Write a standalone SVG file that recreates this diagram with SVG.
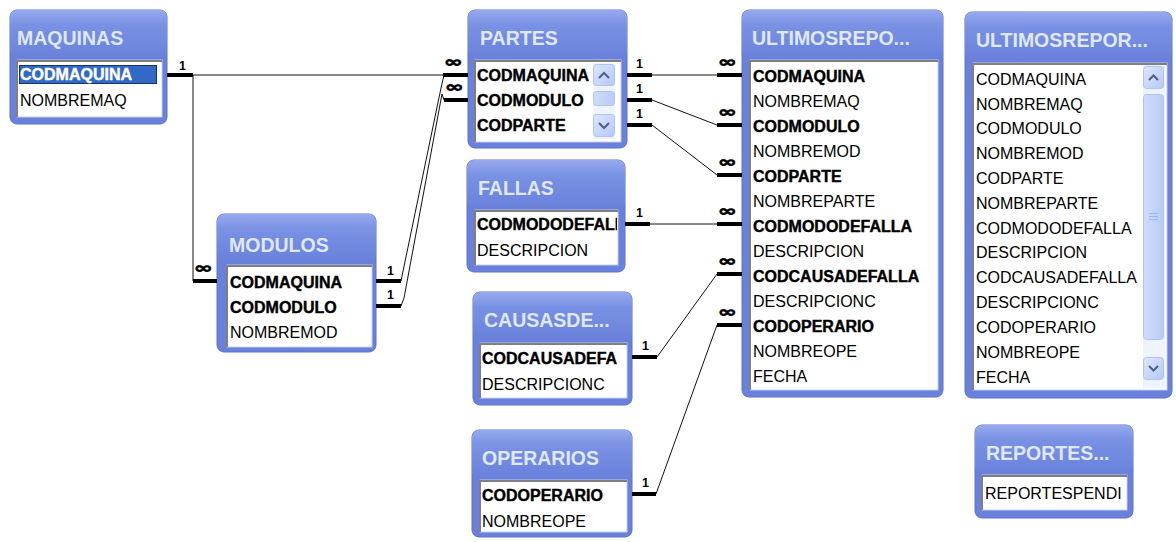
<svg xmlns="http://www.w3.org/2000/svg" width="1176" height="542" viewBox="0 0 1176 542">
  <defs>
    <linearGradient id="titleGrad" x1="0" y1="0" x2="0" y2="1">
      <stop offset="0" stop-color="#97aaee"/>
      <stop offset="0.3" stop-color="#7a92e4"/>
      <stop offset="1" stop-color="#6981da"/>
    </linearGradient>
    <linearGradient id="btnGrad" x1="0" y1="0" x2="1" y2="1">
      <stop offset="0" stop-color="#dce6fd"/>
      <stop offset="1" stop-color="#b6c9f7"/>
    </linearGradient>
    <linearGradient id="thumbGrad" x1="0" y1="0" x2="1" y2="0">
      <stop offset="0" stop-color="#cfdcfb"/>
      <stop offset="1" stop-color="#b9cbf6"/>
    </linearGradient>
    <clipPath id="clipPartes"><rect x="475" y="60" width="117" height="82"/></clipPath>
    <clipPath id="clipFallas"><rect x="475" y="210" width="142" height="55"/></clipPath>
    <clipPath id="clipCausas"><rect x="480" y="343" width="147" height="55"/></clipPath>
    <clipPath id="clipReportes"><rect x="982" y="475" width="145" height="35"/></clipPath>
  </defs>
  <style>
    .win { fill: #6981da; stroke: #5d72cf; stroke-width: 1; }
    .band { fill: url(#titleGrad); }
    .title { font-family: "Liberation Sans", Arial, sans-serif; font-weight: bold; font-size: 19.5px; fill: #dfe8fc; }
    .list { fill: #ffffff; stroke: #c3cdf0; stroke-width: 1; }
    .inset { fill: none; stroke: #7f7f7f; stroke-width: 2; }
    .fld { font-family: "Liberation Sans", Arial, sans-serif; font-size: 16px; fill: #000; }
    .key { font-weight: bold; stroke: #000; stroke-width: 0.4; }
    .sel { fill: #3169c6; }
    .focus { fill: none; stroke: #000; stroke-width: 1; stroke-dasharray: 1 1; }
    .selText { fill: #ffffff; stroke: #ffffff; }
    .track { fill: #eef3fe; }
    .btn { fill: url(#btnGrad); stroke: #b0c3f3; stroke-width: 1; }
    .thumb { fill: url(#thumbGrad); stroke: #b0c3f3; stroke-width: 1; }
    .arrow { fill: none; stroke: #4d6185; stroke-width: 2; }
    .grip { stroke: #9fb5ec; stroke-width: 1; }
    .bar { stroke: #000; stroke-width: 4; }
    .link { stroke: #111; stroke-width: 1; fill: none; }
    .one { font-family: "Liberation Sans", Arial, sans-serif; font-weight: bold; font-size: 12.5px; fill: #000; }
    .many { font-family: "DejaVu Sans", sans-serif; font-weight: bold; font-size: 15px; fill: #000; stroke: #000; stroke-width: 0.6; }
  </style>

  <rect width="1176" height="542" fill="#ffffff"/>

  <!-- table windows -->
  <g id="maquinas">
    <rect class="win" x="10" y="10" width="157" height="114" rx="7"/>
    <rect class="band" x="10" y="10" width="157" height="48" rx="7"/>
    <text class="title" x="17" y="45">MAQUINAS</text>
    <rect class="list" x="17" y="60" width="145" height="57"/>
    <polyline class="inset" points="17,117 17,61 162,61"/>
    <rect class="sel" x="19" y="65" width="138" height="19"/>
    <rect class="focus" x="19.5" y="65.5" width="137" height="18"/>
    <text class="fld key selText" x="20" y="80">CODMAQUINA</text>
    <text class="fld" x="20" y="106">NOMBREMAQ</text>
  </g>

  <g id="modulos">
    <rect class="win" x="217" y="214" width="159" height="138" rx="7"/>
    <rect class="band" x="217" y="214" width="159" height="48" rx="7"/>
    <text class="title" x="229" y="252">MODULOS</text>
    <rect class="list" x="227" y="265" width="145" height="82"/>
    <polyline class="inset" points="227,347 227,266 372,266"/>
    <text class="fld key" x="230" y="288">CODMAQUINA</text>
    <text class="fld key" x="230" y="313">CODMODULO</text>
    <text class="fld" x="230" y="338">NOMBREMOD</text>
  </g>

  <g id="partes">
    <rect class="win" x="468" y="10" width="159" height="138" rx="7"/>
    <rect class="band" x="468" y="10" width="159" height="48" rx="7"/>
    <text class="title" x="480" y="45">PARTES</text>
    <rect class="list" x="475" y="60" width="146" height="82"/>
    <polyline class="inset" points="475,142 475,61 621,61"/>
    <g clip-path="url(#clipPartes)">
      <text class="fld key" x="477" y="81">CODMAQUINA</text>
      <text class="fld key" x="477" y="106">CODMODULO</text>
      <text class="fld key" x="477" y="131">CODPARTE</text>
    </g>
    <rect class="track" x="593" y="63" width="22" height="76"/>
    <rect class="btn" x="593.5" y="64.5" width="21" height="21" rx="3"/>
    <polyline class="arrow" points="599,78 604,73 609,78"/>
    <rect class="thumb" x="593.5" y="91.5" width="21" height="14" rx="3"/>
    <rect class="btn" x="593.5" y="114.5" width="21" height="22" rx="3"/>
    <polyline class="arrow" points="599,123 604,128 609,123"/>
  </g>

  <g id="fallas">
    <rect class="win" x="467" y="160" width="158" height="112" rx="7"/>
    <rect class="band" x="467" y="160" width="158" height="48" rx="7"/>
    <text class="title" x="478" y="195">FALLAS</text>
    <rect class="list" x="475" y="210" width="143" height="55"/>
    <polyline class="inset" points="475,265 475,211 618,211"/>
    <g clip-path="url(#clipFallas)">
      <text class="fld key" x="477" y="230">CODMODODEFALLA</text>
      <text class="fld" x="477" y="256">DESCRIPCION</text>
    </g>
  </g>

  <g id="causasdefalla">
    <rect class="win" x="473" y="292" width="159" height="113" rx="7"/>
    <rect class="band" x="473" y="292" width="159" height="48" rx="7"/>
    <text class="title" x="484" y="327">CAUSASDE...</text>
    <rect class="list" x="480" y="343" width="147" height="55"/>
    <polyline class="inset" points="480,398 480,344 627,344"/>
    <g clip-path="url(#clipCausas)">
      <text class="fld key" x="482" y="364">CODCAUSADEFA</text>
      <text class="fld" x="482" y="390">DESCRIPCIONC</text>
    </g>
  </g>

  <g id="operarios">
    <rect class="win" x="472" y="430" width="160" height="107" rx="7"/>
    <rect class="band" x="472" y="430" width="160" height="48" rx="7"/>
    <text class="title" x="482" y="465">OPERARIOS</text>
    <rect class="list" x="480" y="480" width="147" height="52"/>
    <polyline class="inset" points="480,532 480,481 627,481"/>
    <text class="fld key" x="482" y="501">CODOPERARIO</text>
    <text class="fld" x="482" y="527">NOMBREOPE</text>
  </g>

  <g id="ultimosreportes">
    <rect class="win" x="742" y="10" width="201" height="387" rx="7"/>
    <rect class="band" x="742" y="10" width="201" height="48" rx="7"/>
    <text class="title" x="752" y="45">ULTIMOSREPO...</text>
    <rect class="list" x="750" y="60" width="188" height="330"/>
    <polyline class="inset" points="750,390 750,61 938,61"/>
    <text class="fld key" x="753" y="82">CODMAQUINA</text>
    <text class="fld" x="753" y="107">NOMBREMAQ</text>
    <text class="fld key" x="753" y="132">CODMODULO</text>
    <text class="fld" x="753" y="157">NOMBREMOD</text>
    <text class="fld key" x="753" y="182">CODPARTE</text>
    <text class="fld" x="753" y="207">NOMBREPARTE</text>
    <text class="fld key" x="753" y="232">CODMODODEFALLA</text>
    <text class="fld" x="753" y="257">DESCRIPCION</text>
    <text class="fld key" x="753" y="282">CODCAUSADEFALLA</text>
    <text class="fld" x="753" y="307">DESCRIPCIONC</text>
    <text class="fld key" x="753" y="332">CODOPERARIO</text>
    <text class="fld" x="753" y="357">NOMBREOPE</text>
    <text class="fld" x="753" y="382">FECHA</text>
  </g>

  <g id="ultimosreportes2">
    <rect class="win" x="965" y="12" width="207" height="386" rx="7"/>
    <rect class="band" x="965" y="12" width="207" height="48" rx="7"/>
    <text class="title" x="976" y="47">ULTIMOSREPOR...</text>
    <rect class="list" x="973" y="63" width="194" height="327"/>
    <polyline class="inset" points="973,390 973,64 1167,64"/>
    <text class="fld" x="976" y="85">CODMAQUINA</text>
    <text class="fld" x="976" y="110">NOMBREMAQ</text>
    <text class="fld" x="976" y="134">CODMODULO</text>
    <text class="fld" x="976" y="159">NOMBREMOD</text>
    <text class="fld" x="976" y="184">CODPARTE</text>
    <text class="fld" x="976" y="209">NOMBREPARTE</text>
    <text class="fld" x="976" y="234">CODMODODEFALLA</text>
    <text class="fld" x="976" y="258">DESCRIPCION</text>
    <text class="fld" x="976" y="283">CODCAUSADEFALLA</text>
    <text class="fld" x="976" y="308">DESCRIPCIONC</text>
    <text class="fld" x="976" y="333">CODOPERARIO</text>
    <text class="fld" x="976" y="358">NOMBREOPE</text>
    <text class="fld" x="976" y="383">FECHA</text>
    <rect class="track" x="1143" y="65" width="22" height="323"/>
    <rect class="btn" x="1143.5" y="66.5" width="20" height="22" rx="3"/>
    <polyline class="arrow" points="1149,80 1153.5,75.5 1158,80"/>
    <rect class="thumb" x="1143.5" y="94.5" width="20" height="245" rx="3"/>
    <line class="grip" x1="1149" y1="213.5" x2="1158" y2="213.5"/>
    <line class="grip" x1="1149" y1="216.5" x2="1158" y2="216.5"/>
    <line class="grip" x1="1149" y1="219.5" x2="1158" y2="219.5"/>
    <rect class="btn" x="1143.5" y="357.5" width="20" height="22" rx="3"/>
    <polyline class="arrow" points="1149,366 1153.5,370.5 1158,366"/>
  </g>

  <g id="reportespendientes">
    <rect class="win" x="975" y="425" width="158" height="93" rx="7"/>
    <rect class="band" x="975" y="425" width="158" height="48" rx="7"/>
    <text class="title" x="986" y="460">REPORTES...</text>
    <rect class="list" x="982" y="475" width="145" height="35"/>
    <polyline class="inset" points="982,510 982,476 1127,476"/>
    <g clip-path="url(#clipReportes)">
      <text class="fld" x="985" y="499">REPORTESPENDI</text>
    </g>
  </g>

  <!-- relationship lines -->
  <g id="connectors">
    <!-- MAQUINAS.CODMAQUINA -> PARTES / MODULOS -->
    <line class="bar" x1="167" y1="75" x2="193" y2="75"/>
    <path class="link" d="M193,75 L443,75"/>
    <path class="link" d="M193,75 L193,281"/>
    <line class="bar" x1="443" y1="75" x2="468" y2="75"/>
    <line class="bar" x1="193" y1="281" x2="217" y2="281"/>
    <text class="one" x="179" y="70">1</text>
    <text class="many" x="444" y="67" textLength="19" lengthAdjust="spacingAndGlyphs">∞</text>
    <text class="many" x="194" y="273" textLength="19" lengthAdjust="spacingAndGlyphs">∞</text>

    <!-- MODULOS (CODMAQUINA, CODMODULO) -> PARTES -->
    <line class="bar" x1="376" y1="281" x2="401" y2="281"/>
    <line class="bar" x1="376" y1="306" x2="401" y2="306"/>
    <path class="link" d="M401,281 L441,88 L444,75"/>
    <path class="link" d="M401,306 L404,298 L442,94 L444,100"/>
    <line class="bar" x1="444" y1="100" x2="468" y2="100"/>
    <text class="one" x="387" y="275">1</text>
    <text class="one" x="387" y="299">1</text>
    <text class="many" x="445" y="92" textLength="19" lengthAdjust="spacingAndGlyphs">∞</text>

    <!-- PARTES -> ULTIMOSREPO -->
    <line class="bar" x1="627" y1="75" x2="652" y2="75"/>
    <line class="bar" x1="627" y1="100" x2="652" y2="100"/>
    <line class="bar" x1="627" y1="125" x2="652" y2="125"/>
    <path class="link" d="M652,75 L717,75"/>
    <path class="link" d="M652,100 L717,125"/>
    <path class="link" d="M652,125 L717,175"/>
    <text class="one" x="636" y="68">1</text>
    <text class="one" x="636" y="93">1</text>
    <text class="one" x="636" y="118">1</text>

    <!-- FALLAS, CAUSASDE, OPERARIOS -> ULTIMOSREPO -->
    <line class="bar" x1="625" y1="224" x2="650" y2="224"/>
    <path class="link" d="M650,224 L717,224"/>
    <text class="one" x="636" y="217">1</text>
    <line class="bar" x1="632" y1="357" x2="657" y2="357"/>
    <path class="link" d="M657,357 L717,274"/>
    <text class="one" x="642" y="350">1</text>
    <line class="bar" x1="632" y1="494" x2="656" y2="494"/>
    <path class="link" d="M656,494 L717,325"/>
    <text class="one" x="642" y="487">1</text>

    <!-- many-side stubs on ULTIMOSREPO -->
    <line class="bar" x1="717" y1="75" x2="742" y2="75"/>
    <line class="bar" x1="717" y1="125" x2="742" y2="125"/>
    <line class="bar" x1="717" y1="175" x2="742" y2="175"/>
    <line class="bar" x1="717" y1="224" x2="742" y2="224"/>
    <line class="bar" x1="717" y1="274" x2="742" y2="274"/>
    <line class="bar" x1="717" y1="325" x2="742" y2="325"/>
    <text class="many" x="718" y="67" textLength="19" lengthAdjust="spacingAndGlyphs">∞</text>
    <text class="many" x="718" y="117" textLength="19" lengthAdjust="spacingAndGlyphs">∞</text>
    <text class="many" x="718" y="167" textLength="19" lengthAdjust="spacingAndGlyphs">∞</text>
    <text class="many" x="718" y="216" textLength="19" lengthAdjust="spacingAndGlyphs">∞</text>
    <text class="many" x="718" y="266" textLength="19" lengthAdjust="spacingAndGlyphs">∞</text>
    <text class="many" x="718" y="317" textLength="19" lengthAdjust="spacingAndGlyphs">∞</text>
  </g>
</svg>
